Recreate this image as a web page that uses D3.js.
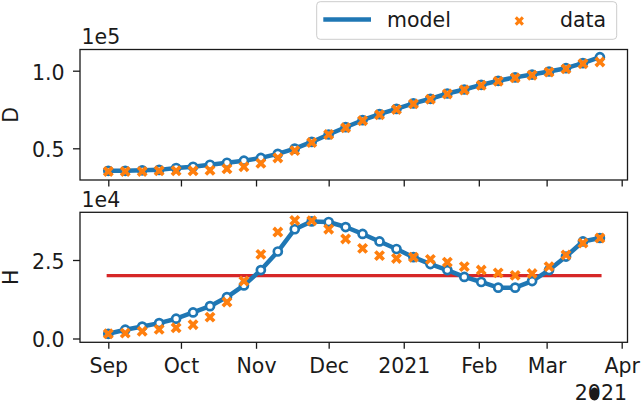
<!DOCTYPE html>
<html>
<head>
<meta charset="utf-8">
<script src="https://cdn.jsdelivr.net/npm/d3@7"></script>
<style>
  html, body { margin: 0; padding: 0; background: #fff; }
  svg { display: block; font-family: "DejaVu Sans", sans-serif; }
</style>
</head>
<body>
<svg id="chart" width="641" height="402"></svg>
<script>
// ---- data (D in units of 1e5, H in units of 1e4) ----
const startDate = "2020-09-01";
const nWeeks = 30;
const modelD = [0.355,0.355,0.358,0.361,0.373,0.381,0.394,0.407,0.420,0.438,0.464,0.498,0.541,0.589,0.636,0.681,0.720,0.754,0.789,0.819,0.853,0.879,0.909,0.935,0.957,0.975,0.995,1.016,1.049,1.087];
const dataD  = [0.351,0.351,0.351,0.355,0.355,0.355,0.358,0.368,0.381,0.403,0.438,0.485,0.537,0.589,0.632,0.678,0.716,0.750,0.786,0.816,0.850,0.876,0.906,0.932,0.954,0.971,0.991,1.012,1.045,1.056];
const modelH = [0.15,0.28,0.38,0.49,0.63,0.83,1.03,1.32,1.69,2.18,2.77,3.48,3.73,3.71,3.55,3.33,3.09,2.85,2.59,2.37,2.18,1.96,1.80,1.62,1.62,1.83,2.18,2.61,3.09,3.20];
const dataH  = [0.15,0.17,0.23,0.29,0.34,0.44,0.68,1.16,1.83,2.68,3.39,3.76,3.75,3.48,3.17,2.87,2.64,2.55,2.59,2.52,2.43,2.29,2.18,2.09,2.01,2.07,2.29,2.66,3.04,3.20];
const thresholdH = 2.0;
const tickDateStrings = ["2020-09-01","2020-10-01","2020-11-01","2020-12-01","2021-01-01","2021-02-01","2021-03-01","2021-04-01"];
const tickLabels = ["Sep","Oct","Nov","Dec","2021","Feb","Mar","Apr"];
const yTicksD = [0.5, 1.0];
const yTicksH = [0.0, 2.5];
const offsetD = "1e5", offsetH = "1e4", offsetX = "2021";
const seriesNames = ["model", "data"];

// ---- setup ----
const parse = d3.utcParse("%Y-%m-%d");
const t0 = parse(startDate);
const dates = d3.range(nWeeks).map(i => d3.utcDay.offset(t0, 7 * i));
const tickDates = tickDateStrings.map(parse);

const BLUE = "#1f77b4", ORANGE = "#ff7f0e", RED = "#d62728", INK = "#1a1a1a";
const FS = 20.5;
const svg = d3.select("#chart");
svg.append("rect").attr("width", 641).attr("height", 402).attr("fill", "#fff");

const L = 80, R = 627.5;
const x = d3.scaleUtc().domain([tickDates[0], tickDates[7]]).range([108.3, 621.7]);

const panels = [
  { top: 49.5, bottom: 180, y: d3.scaleLinear().domain([0.5, 1.0]).range([148.3, 70.7]),
    model: modelD, data: dataD, ticks: yTicksD, label: "D", offset: offsetD, xlabels: false },
  { top: 212.3, bottom: 342.3, y: d3.scaleLinear().domain([0, 2.5]).range([338.5, 260]),
    model: modelH, data: dataH, ticks: yTicksH, label: "H", offset: offsetH, xlabels: true, thr: thresholdH }
];

function xMarker(r) {
  // filled "X" marker: a plus rotated by 45 degrees
  const Lh = r * 1.09, w = r * 0.34;
  const pts = [[-w,-Lh],[w,-Lh],[w,-w],[Lh,-w],[Lh,w],[w,w],[w,Lh],[-w,Lh],[-w,w],[-Lh,w],[-Lh,-w],[-w,-w]];
  const c = Math.SQRT1_2;
  const p = d3.path();
  pts.forEach(([a,b], i) => {
    const px = (a - b) * c, py = (a + b) * c;
    i ? p.lineTo(px, py) : p.moveTo(px, py);
  });
  p.closePath();
  return p.toString();
}
const XPATH = xMarker(5.4);

panels.forEach(P => {
  const g = svg.append("g");
  // threshold line
  if (P.thr !== undefined) {
    g.append("path")
      .datum([dates[0], dates[dates.length - 1]])
      .attr("d", d3.line().x(d => x(d)).y(() => P.y(P.thr)))
      .attr("fill", "none").attr("stroke", RED).attr("stroke-width", 3.3)
      .attr("stroke-linecap", "square");
  }
  // model line
  const line = d3.line().x((d, i) => x(dates[i])).y(d => P.y(d));
  g.append("path").datum(P.model).attr("d", line)
    .attr("fill", "none").attr("stroke", BLUE).attr("stroke-width", 4.5)
    .attr("stroke-linejoin", "round");
  g.selectAll("circle.m").data(P.model).join("circle")
    .attr("cx", (d, i) => x(dates[i])).attr("cy", d => P.y(d)).attr("r", 4)
    .attr("fill", "#fff").attr("stroke", BLUE).attr("stroke-width", 2.7);
  // data markers
  g.selectAll("path.x").data(P.data).join("path")
    .attr("d", XPATH)
    .attr("transform", (d, i) => `translate(${x(dates[i])},${P.y(d)})`)
    .attr("fill", ORANGE);

  // frame
  svg.append("rect").attr("x", L).attr("y", P.top).attr("width", R - L).attr("height", P.bottom - P.top)
    .attr("fill", "none").attr("stroke", INK).attr("stroke-width", 1.3);

  // x axis
  const xa = svg.append("g").attr("transform", `translate(0,${P.bottom})`)
    .call(d3.axisBottom(x).tickValues(tickDates)
      .tickFormat((d, i) => P.xlabels ? tickLabels[i] : "")
      .tickSize(6.5).tickPadding(9.5));
  xa.select(".domain").remove();
  xa.selectAll("line").attr("stroke", INK).attr("stroke-width", 1.3);
  xa.selectAll("text").attr("fill", INK).attr("font-size", FS).attr("font-family", "DejaVu Sans");

  // y axis
  const ya = svg.append("g").attr("transform", `translate(${L},0)`)
    .call(d3.axisLeft(P.y).tickValues(P.ticks).tickFormat(d3.format(".1f"))
      .tickSize(7).tickPadding(8.5));
  ya.select(".domain").remove();
  ya.selectAll("line").attr("stroke", INK).attr("stroke-width", 1.3);
  ya.selectAll("text").attr("fill", INK).attr("font-size", FS).attr("font-family", "DejaVu Sans")
    .attr("dy", "0.41em");

  // offset text
  svg.append("text").attr("x", 81.5).attr("y", P.top - 5.5)
    .attr("font-size", FS).attr("fill", INK).text(P.offset);
  // y label
  svg.append("text")
    .attr("transform", `translate(18,${(P.top + P.bottom) / 2}) rotate(-90)`)
    .attr("text-anchor", "middle").attr("font-size", FS).attr("fill", INK).text(P.label);
});

// x offset text (year)
svg.append("text").attr("x", 627).attr("y", 400).attr("text-anchor", "end")
  .attr("font-size", FS).attr("fill", INK).text(offsetX);
svg.append("ellipse").attr("cx", 594.5).attr("cy", 394).attr("rx", 4.6).attr("ry", 6.4).attr("fill", INK);

// legend
const lg = svg.append("g");
lg.append("rect").attr("x", 316.7).attr("y", 1.7).attr("width", 300).attr("height", 37.6)
  .attr("rx", 3.5).attr("fill", "#fff").attr("fill-opacity", 0.8)
  .attr("stroke", "#cccccc").attr("stroke-width", 1);
lg.append("line").attr("x1", 323.3).attr("x2", 371).attr("y1", 19.5).attr("y2", 19.5)
  .attr("stroke", BLUE).attr("stroke-width", 4.5);
lg.append("text").attr("x", 387).attr("y", 26.7).attr("font-size", FS).attr("fill", INK).text(seriesNames[0]);
lg.append("path").attr("d", xMarker(4.6)).attr("transform", "translate(519.3,21)").attr("fill", ORANGE);
lg.append("text").attr("x", 560).attr("y", 26.7).attr("font-size", FS).attr("fill", INK).text(seriesNames[1]);
</script>
</body>
</html>
